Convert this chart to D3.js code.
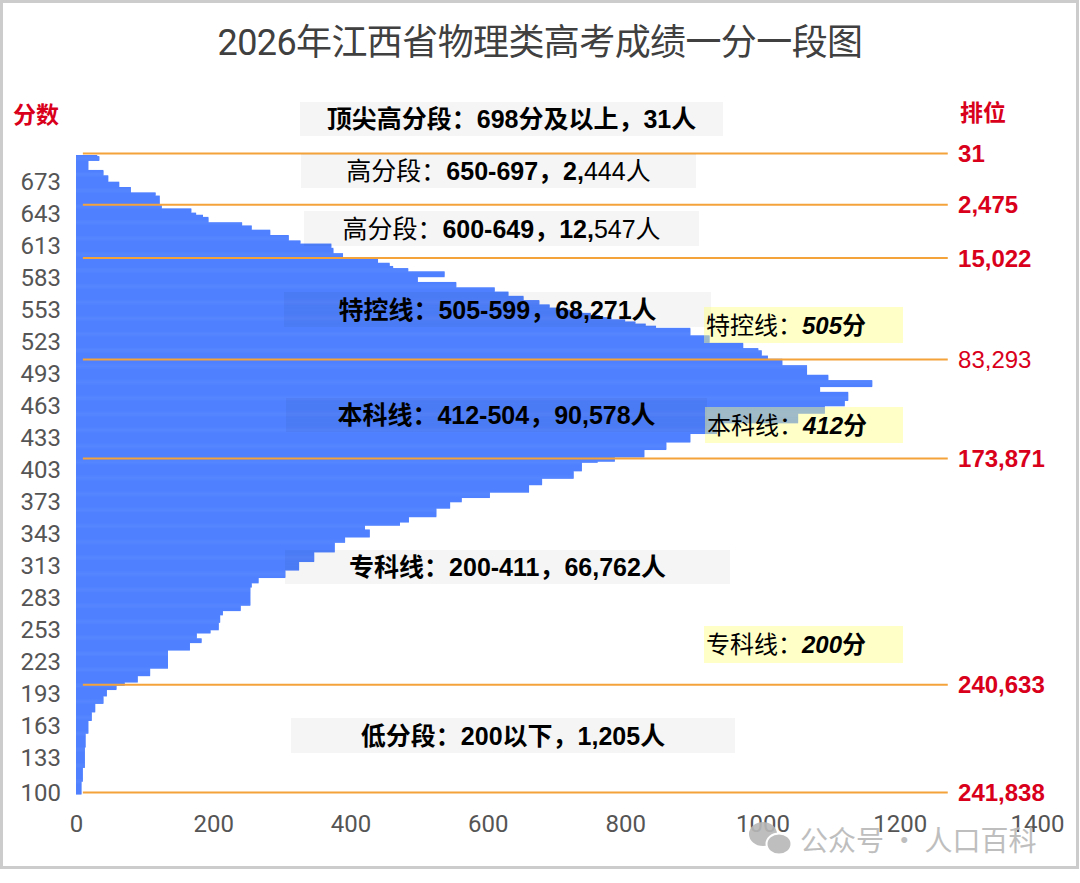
<!DOCTYPE html>
<html lang="zh">
<head>
<meta charset="UTF-8" />
<title>2026年江西省物理类高考成绩一分一段图</title>
<script src="https://cdn.jsdelivr.net/npm/d3@7"></script>
<style>
  html, body { margin: 0; padding: 0; background: #fff; }
  svg { display: block; }
</style>
</head>
<body>
<svg id="chart" width="1080" height="883"></svg>
<script>
/* counts per score, from 698 (698 and up) down to 100 */
const countsTop = [ // 698 - 650
  31, 34,34,34,34,
  18,18,18,18,18,18,18,18,18,
  40,40,40,40,40,
  47,47,47,47,47,47,
  63,63,63,63,63,
  80,80,80,80,80,
  116,116,116,
  122,122,122,122,122,122,122,122,
  125,125,125
];
const countsHigh = [ // 649 - 600
  125,
  168,168,168,168,
  175,175, 185,185,
  193,193,193,193,193,
  242,242,242,
  256,256,256,256,
  283,283,283,283,283,
  310,310,310,310,310,
  327,327,327,
  372,372,372,372,
  375,375,375,375,375,
  389,389,389,389,
  440,440,440
];
const countsKey = [ // 599 - 505
  440,440,
  457,457,457,
  462,462,
  484,484,484,
  537,537,537,537,537,
  498,498,498,498,498,
  554,554,554,554,554,
  610,610,610,610,
  630,630,630,630,
  652,652,652,652,
  675,675,675,675,
  690,690,690,
  705,705, 720, 734,734, 750,750, 763,763, 780,780,
  800,800, 815,815, 830,830, 845,845,
  895,895,895,895,895,895,895,
  923,923,923,923,923,923,923,
  972,972,972,972,972,
  994,994,
  999,999,999,999,999,
  1008,1008,1008,
  1029,1029,1029
];
const countsBen = [ // 504 - 412
  1029,1029,1029,
  1065,1065,1065,1065,1065,1065,1065,1065,1065,
  1096,1096,1096,1096,1096,
  1160,1160,1160,1160,1160,1160,
  1084,1084,1084,1084,1084,
  1125,1125,1125,1125,1125,1125,1125,1125,
  1120,1120,1120,1120,1120,
  1091,1091,1091,1091,1091,1091,1091,
  1052,1052,1052,1052,1052,1052,1052,1052,1052,
  934,934,934,934,934,934,934,934,934,934,
  895,895,895,895,895,895,895,895,
  860,860,860,860,860,860,860,
  828,828,828,828,828,828,828,
  785,785,785,785
];
const countsZhuan = [ // 411 - 200
  760,
  737,737,737,737,737,737,737,737,
  725,725,725,725,725,725,725,
  679,679,679,679,679,679,
  660,660,660,660,660,660,660,
  603,603,603,603,603,
  562,562,562,562,
  545,545,545,545,545,545,
  525,525,525,525,525,525,525,525,
  485,485,485,485,485,
  472,472,472,
  421,421,421,421,
  428,428,428,428,428,428,428,
  392,392,392,392,392,
  377,377,377,377,377,377,377,377,377,
  347,347,347,347,347,347,347,347,347,
  325,325,325,325,325,325,325,325,
  305,305,305,305,305,305,305,
  266,266,266,266,266,
  256,256,256,256,
  254,254,254,254,254,254,
  254,254,254,254,254,254,254,
  254,254,254,254,
  240,240,240,240,240,
  214,214,214,214,
  210,210,210,210,210,210,210,
  208,208,208,208,208,208,208,
  196,196,196,
  176,176,176,176,176,
  183,183,183,183,
  166,166,166,166,166,166,166,
  134,134,134,134,134,134,134,134,134,134,134,134,134,134,134,134,134,
  108,108,108,108,108,108,108,
  90,90,90,90,90,90,
  71,71,71,
  59,59
];
const countsLow = [ // 199 - 100
  59,59,
  45,45,45,45,45,45,
  40,40,40,40,40,40,40,
  28,28,28,28,28,28,28,28,
  23,23,23,23,23,23,23,23,
  18,18,18,18,18,18,18,18,18,18,18,18,
  14,14,14,14,14,14,14,14,14,14,14,14,14,
  13,13,13,13,13,13,13,13,13,13,13,13,13,13,13,13,13,13,13,
  10,10,10,10,10,10,10,10,10,10,10,10,10,
  8,8,8,8,8,8,8,8,8,8,8,8
];

const yTickScores = [673,643,613,583,553,523,493,463,433,403,373,343,313,283,253,223,193,163,133,100];
const xTickValues = [0,200,400,600,800,1000,1200,1400];

// cut lines (score at the top of each band; 'end' = under the last bar) and cumulative ranks
const cutScores = [698, 650, 600, 505, 412, 200, 'end'];
const cutRanks = ['31', '2,475', '15,022', '83,293', '173,871', '240,633', '241,838'];

// band notes: [text, bold?]
const bandNotes = [
  [['顶尖高分段：698分及以上，31人', true]],
  [['高分段：', false], ['650-697，2,', true], ['444人', false]],
  [['高分段：', false], ['600-649，12,', true], ['547人', false]],
  [['特控线：505-599，68,271人', true]],
  [['本科线：412-504，90,578人', true]],
  [['专科线：200-411，66,762人', true]],
  [['低分段：200以下，1,205人', true]]
];
const lineNotes = [
  ['特控线：', '505', '分'],
  ['本科线：', '412', '分'],
  ['专科线：', '200', '分']
];

const FONT = '"Liberation Sans", "Noto Sans CJK SC", sans-serif';
const RED = '#d9001b';
const svg = d3.select('#chart');

const counts = [].concat(countsTop, countsHigh, countsKey, countsBen, countsZhuan, countsLow);
const scores = d3.range(698, 99, -1);
const rows = scores.map((s, i) => ({ score: s, count: counts[i] || 0 }));

const x = d3.scaleLinear().domain([0, 1400]).range([76, 1037]);
const y = d3.scaleBand().domain(scores).range([155, 794]).padding(0);
const edgeY = s => (s === 'end' ? y(100) + y.bandwidth() : y(s)) - 1.5;

// frame
svg.append('rect')
  .attr('x', 1.5).attr('y', 1.5).attr('width', 1076).attr('height', 866)
  .attr('fill', '#fff').attr('stroke', '#cccccc').attr('stroke-width', 3);

// title
svg.append('text')
  .attr('x', 540).attr('y', 42).attr('dy', '0.36em')
  .attr('text-anchor', 'middle')
  .attr('font-family', 'Roboto, "Noto Sans CJK SC", sans-serif')
  .attr('font-size', 36).attr('letter-spacing', -0.6).attr('fill', '#404040')
  .text('2026年江西省物理类高考成绩一分一段图');

// bars
svg.append('g')
  .selectAll('rect')
  .data(rows)
  .join('rect')
    .attr('x', x(0))
    .attr('y', d => y(d.score))
    .attr('width', d => x(d.count) - x(0))
    .attr('height', y.bandwidth() + 0.6)
    .attr('fill', '#4f80ff');

// axes
const yAxis = svg.append('g')
  .attr('transform', `translate(${x(0)},0)`)
  .call(d3.axisLeft(y).tickValues(yTickScores).tickSize(0).tickPadding(15));
yAxis.select('.domain').remove();
yAxis.selectAll('text')
  .attr('font-family', 'Roboto, sans-serif').attr('font-size', 24).attr('fill', '#555');

const xAxis = svg.append('g')
  .attr('transform', `translate(0,${y.range()[1]})`)
  .call(d3.axisBottom(x).tickValues(xTickValues).tickFormat(d3.format('d')).tickSize(0).tickPadding(21));
xAxis.select('.domain').remove();
xAxis.selectAll('text')
  .attr('font-family', 'Roboto, sans-serif').attr('font-size', 24).attr('fill', '#555');

// cut lines + rank labels
svg.append('g')
  .selectAll('line')
  .data(cutScores)
  .join('line')
    .attr('x1', x(10)).attr('x2', x(1270))
    .attr('y1', d => edgeY(d)).attr('y2', d => edgeY(d))
    .attr('stroke', '#f4a23a').attr('stroke-width', 2);

svg.append('g')
  .selectAll('text')
  .data(cutScores)
  .join('text')
    .attr('x', x(1285))
    .attr('y', d => edgeY(d))
    .attr('dy', '0.36em')
    .attr('font-family', FONT).attr('font-size', 24)
    .attr('font-weight', (d, i) => i === 3 ? 400 : 700)
    .attr('fill', RED)
    .text((d, i) => cutRanks[i]);

// axis headers
svg.append('text').attr('x', 13).attr('y', 115).attr('dy', '0.36em')
  .attr('font-family', FONT).attr('font-size', 23).attr('font-weight', 700)
  .attr('fill', RED).text('分数');
svg.append('text').attr('x', 960).attr('y', 113).attr('dy', '0.36em')
  .attr('font-family', FONT).attr('font-size', 23).attr('font-weight', 700)
  .attr('fill', RED).text('排位');

// band note boxes (light grey, see-through over the bars)
const noteBoxes = [
  [300, 102, 423, 34], [301, 154, 395, 34], [304, 211, 395, 35],
  [284, 292, 427, 35], [286, 398, 421, 34], [285, 550, 445, 34], [291, 718, 444, 35]
];
const gNotes = svg.append('g');
bandNotes.forEach((parts, i) => {
  const [bx, by, bw, bh] = noteBoxes[i];
  gNotes.append('rect').attr('x', bx).attr('y', by).attr('width', bw).attr('height', bh)
    .attr('fill', '#000').attr('fill-opacity', 0.04);
  const t = gNotes.append('text')
    .attr('x', bx + bw / 2).attr('y', by + bh / 2).attr('dy', '0.36em')
    .attr('text-anchor', 'middle')
    .attr('font-family', FONT).attr('font-size', 25).attr('fill', '#000');
  parts.forEach(([s, b]) => t.append('tspan').attr('font-weight', b ? 700 : 400).text(s));
});

// yellow cut-line notes
const lineBoxes = [[704, 307, 199, 36], [705, 407, 198, 36], [704, 626, 199, 37]];
lineNotes.forEach(([lead, num, unit], i) => {
  const [bx, by, bw, bh] = lineBoxes[i];
  gNotes.append('rect').attr('x', bx).attr('y', by).attr('width', bw).attr('height', bh)
    .attr('fill', '#ffff85').attr('fill-opacity', 0.45);
  const t = gNotes.append('text')
    .attr('x', bx + 2).attr('y', by + bh / 2).attr('dy', '0.36em')
    .attr('font-family', FONT).attr('font-size', 24).attr('fill', '#000');
  t.append('tspan').text(lead);
  t.append('tspan').attr('font-weight', 700).attr('font-style', 'italic').text(num);
  t.append('tspan').attr('font-weight', 700).text(unit);
});

// watermark
const wm = svg.append('g').attr('fill', '#b8b8b8').attr('opacity', 0.9);
wm.append('ellipse').attr('cx', 763).attr('cy', 834).attr('rx', 14).attr('ry', 12);
wm.append('ellipse').attr('cx', 779).attr('cy', 844).attr('rx', 12.5).attr('ry', 10.5)
  .attr('stroke', '#fff').attr('stroke-width', 2);
wm.append('text').attr('x', 800).attr('y', 841).attr('dy', '0.36em')
  .attr('font-family', '"Noto Sans CJK SC", sans-serif').attr('font-size', 28)
  .text('公众号 · 人口百科');
</script>
</body>
</html>
